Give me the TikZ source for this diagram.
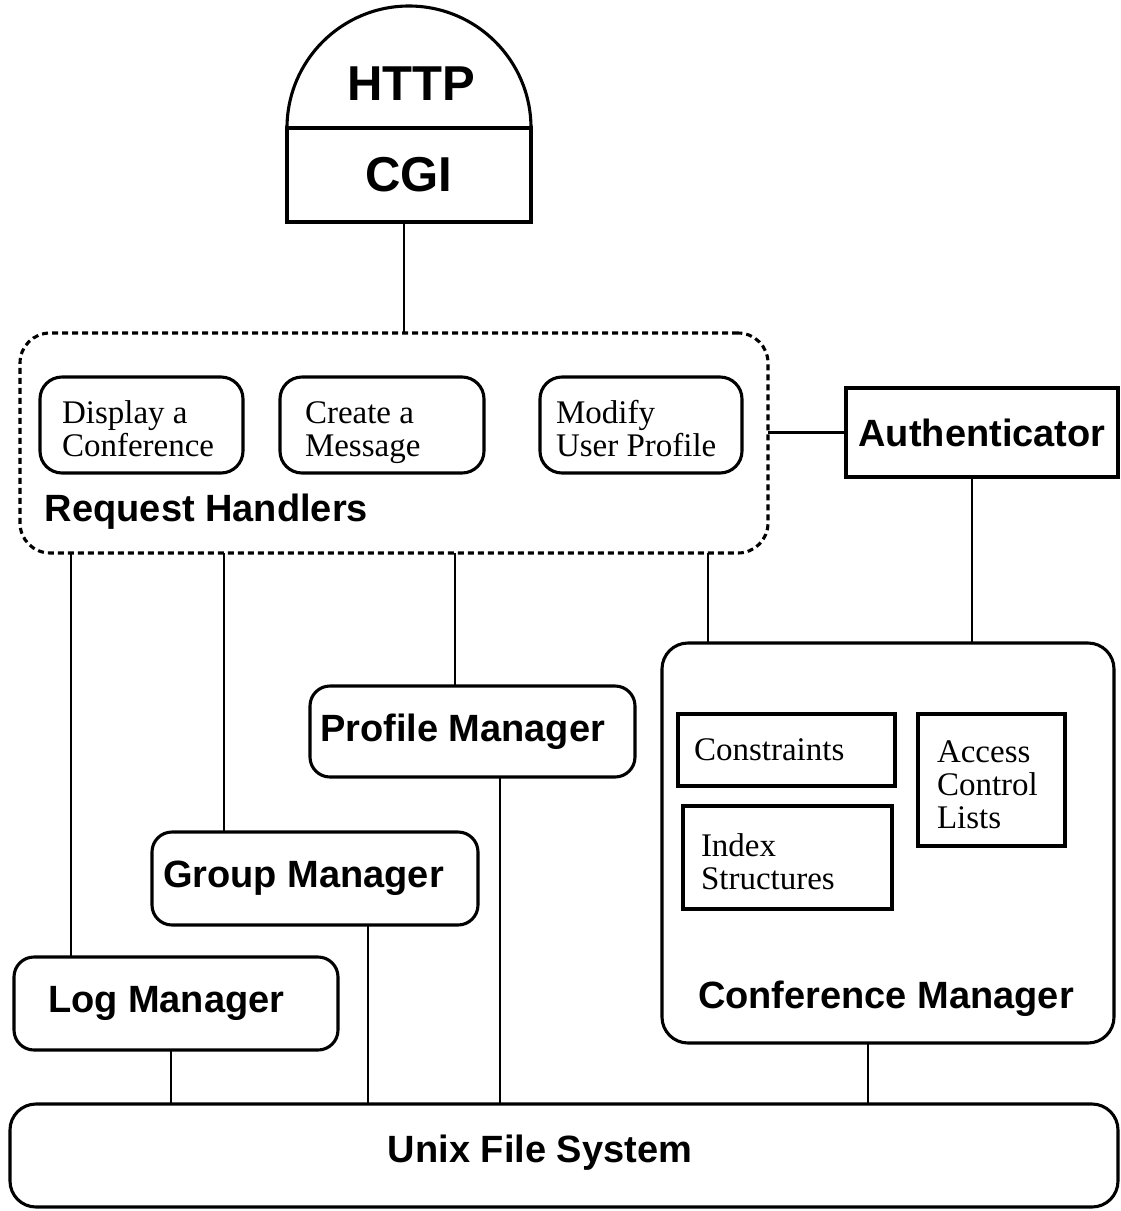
\documentclass[tikz,border=0pt]{standalone}
\usepackage{fontspec}
\setmainfont{Liberation Serif}
\newfontfamily\sansfont{Liberation Sans}
\newcommand\topstrutx{\rule{0pt}{37pt}}
\newcommand\botstrutx{\rule[-7pt]{0pt}{7pt}}
\begin{document}
\begin{tikzpicture}[x=1pt,y=-1pt,
  every node/.style={inner sep=0pt, outer sep=0pt},
  bx/.style={draw, line width=3.1pt},
  conn/.style={line width=2.6pt},
  serif/.style={font=\fontsize{33}{33}\selectfont},
  bsans/.style={font=\sansfont\bfseries\fontsize{38}{40}\selectfont},
  hbox/.style={bx, rounded corners=22pt, serif, align=flush left, minimum height=96pt},
  mgr/.style={bx, rounded corners=20pt, bsans, align=flush left, minimum height=92pt},
  rbox/.style={bx, serif, align=flush left},
]
\useasboundingbox (0,0) rectangle (1121,1211);

% HTTP / CGI
\node[bx, bsans, font=\sansfont\bfseries\fontsize{49}{49}\selectfont,
      minimum width=244pt, minimum height=94pt] (cgi) at (409,175) {CGI};
\draw[line width=3.1pt] (cgi.north west) arc[start angle=180, end angle=360, radius=122];
\node[font=\sansfont\bfseries\fontsize{49}{49}\selectfont] (http) at (411,84) {HTTP};

% Request handlers
\node[draw, line width=3.1pt, dash pattern=on 6pt off 4pt, rounded corners=30pt,
      minimum width=748pt, minimum height=220pt] (rh) at (394,443) {};
\node[hbox, minimum width=203pt, text width=159pt, inner xsep=22pt] (h1) at (141.5,425) {\topstrutx Display a\\Conference\botstrutx};
\node[hbox, minimum width=204pt, text width=154pt, inner xsep=25pt] (h2) at (382,425) {\topstrutx Create a\\Message\botstrutx};
\node[hbox, minimum width=202pt, text width=170pt, inner xsep=16pt] (h3) at (641,425) {\topstrutx Modify\\User Profile\botstrutx};
\node[bsans, anchor=west] (rhl) at (45,512) {Request Handlers};

% Authenticator
\node[bx, bsans, minimum width=272pt, minimum height=89pt] (auth) at (982,432.5) {Authenticator};

% Conference manager
\node[bx, rounded corners=26pt, minimum width=452pt, minimum height=400pt] (conf) at (888,843) {};
\node[rbox, minimum width=217pt, minimum height=72pt, text width=185pt, inner xsep=16pt] (cons) at (786.5,750) {Constraints};
\node[rbox, minimum width=209pt, minimum height=103pt, text width=173pt, inner xsep=18pt] (idx) at (787.5,857.5) {\topstrutx Index\\Structures\botstrutx};
\node[rbox, minimum width=147pt, minimum height=132pt, text width=109pt, inner xsep=19pt] (acl) at (991.5,780) {\topstrutx Access\\Control\\Lists\botstrutx};
\node[bsans] (confl) at (886,999) {Conference Manager};

% Managers
\node[mgr, minimum width=325pt, minimum height=91pt, text width=305pt, inner xsep=10pt] (prof) at (472.5,731.5) {Profile Manager};
\node[mgr, minimum width=326pt, minimum height=93pt, text width=304pt, inner xsep=11pt] (grp) at (315,878.5) {Group Manager};
\node[mgr, minimum width=324pt, minimum height=93pt, text width=256pt, inner xsep=34pt] (log) at (176,1003.5) {Log Manager};

% Unix file system
\node[bx, rounded corners=26pt, minimum width=1108pt, minimum height=103pt] (ufs) at (564,1155.5) {};
\node[bsans] (ufsl) at (540,1153) {Unix File System};

% connectors
\coordinate (x71) at (71,0);
\coordinate (x224) at (224,0);
\coordinate (x455) at (455,0);
\coordinate (x708) at (708,0);
\coordinate (x171) at (171,0);
\coordinate (x368) at (368,0);
\coordinate (x500) at (500,0);
\coordinate (x868) at (868,0);

\draw[conn] ([xshift=-5pt]cgi.south) -- ([xshift=-5pt]cgi.south |- rh.north);
\draw[conn] (auth.west -| rh.east) -- (auth.west);
\draw[conn] ([xshift=-10pt]auth.south) -- ([xshift=-10pt]auth.south |- conf.north);
\draw[conn] (x708 |- rh.south) -- (x708 |- conf.north);
\draw[conn] (x71 |- rh.south) -- (x71 |- log.north);
\draw[conn] (x224 |- rh.south) -- (x224 |- grp.north);
\draw[conn] (x455 |- rh.south) -- (x455 |- prof.north);
\draw[conn] (x171 |- log.south) -- (x171 |- ufs.north);
\draw[conn] (x368 |- grp.south) -- (x368 |- ufs.north);
\draw[conn] (x500 |- prof.south) -- (x500 |- ufs.north);
\draw[conn] (x868 |- conf.south) -- (x868 |- ufs.north);
\end{tikzpicture}
\end{document}
